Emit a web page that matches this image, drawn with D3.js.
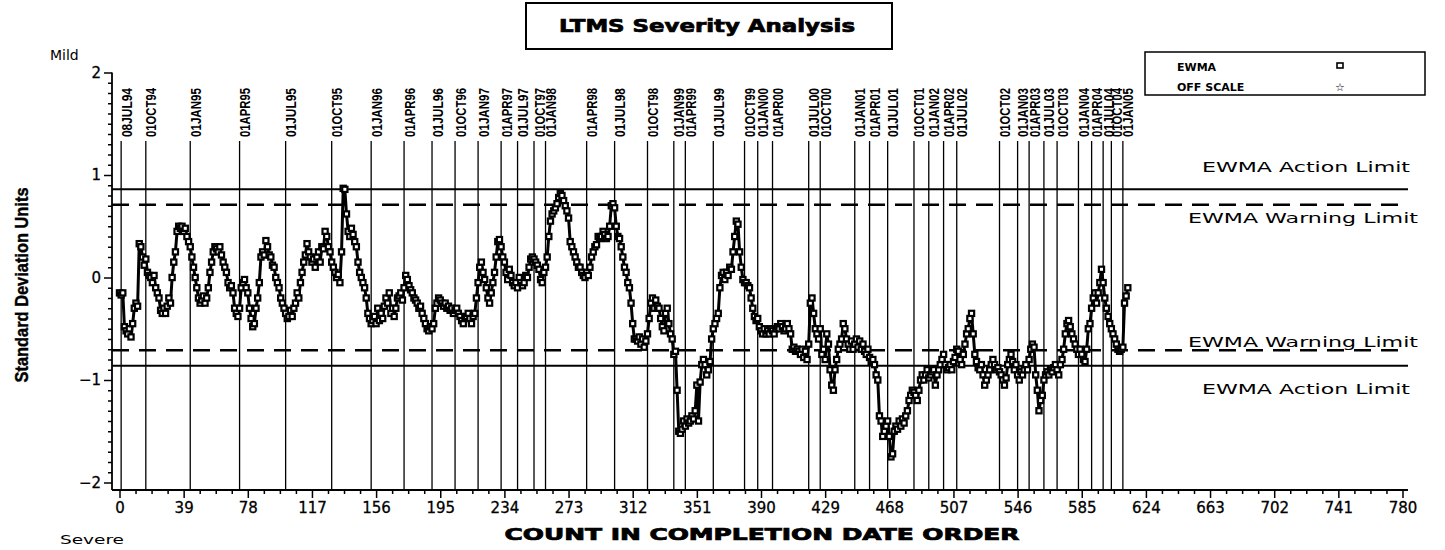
<!DOCTYPE html>
<html>
<head>
<meta charset="utf-8">
<title>LTMS Severity Analysis</title>
<script src="https://cdn.jsdelivr.net/npm/d3@7"></script>
<style>
  body { margin: 0; background: #fff; }
  svg { display: block; }
</style>
</head>
<body>
<div id="chart"></div>
<script>
// ===============================
// Donnees du graphique
// ===============================

// EWMA, une valeur par test (index = rang dans l'ordre de fin)
const ewma = [
  -0.15, -0.17, -0.15, -0.48, -0.52, -0.55, -0.50, -0.58, -0.45, -0.30,
  -0.25, -0.28, 0.33, 0.30, 0.20, 0.12, 0.18, 0.05, 0.02, 0.00,
  -0.05, 0.02, -0.10, -0.15, -0.20, -0.32, -0.35, -0.30, -0.35, -0.28,
  -0.20, -0.25, 0.00, 0.15, 0.25, 0.45, 0.50, 0.48, 0.50, 0.45,
  0.48, 0.40, 0.35, 0.30, 0.20, 0.10, 0.00, -0.10, -0.20, -0.25,
  -0.22, -0.18, -0.25, -0.20, -0.10, 0.05, 0.15, 0.25, 0.30, 0.28,
  0.25, 0.30, 0.22, 0.15, 0.10, 0.05, -0.05, -0.10, -0.08, -0.15,
  -0.30, -0.35, -0.38, -0.30, -0.10, -0.05, -0.02, -0.10, -0.15, -0.30,
  -0.40, -0.48, -0.45, -0.30, -0.20, -0.05, 0.20, 0.25, 0.22, 0.36,
  0.30, 0.22, 0.20, 0.12, 0.10, 0.00, -0.05, -0.10, -0.20, -0.25,
  -0.30, -0.35, -0.40, -0.38, -0.32, -0.38, -0.30, -0.25, -0.15, -0.20,
  -0.05, 0.05, 0.15, 0.22, 0.33, 0.25, 0.20, 0.15, 0.18, 0.10,
  0.20, 0.25, 0.15, 0.30, 0.28, 0.45, 0.40, 0.30, 0.25, 0.15,
  0.10, 0.05, 0.00, 0.03, -0.05, 0.25, 0.87, 0.86, 0.62, 0.45,
  0.40, 0.48, 0.42, 0.35, 0.30, 0.15, 0.05, 0.00, -0.05, -0.10,
  -0.20, -0.35, -0.40, -0.45, -0.42, -0.38, -0.45, -0.30, -0.42, -0.35,
  -0.40, -0.28, -0.20, -0.25, -0.15, -0.35, -0.30, -0.38, -0.30, -0.20,
  -0.18, -0.15, -0.22, -0.10, 0.02, -0.02, -0.08, -0.12, -0.15, -0.20,
  -0.22, -0.25, -0.30, -0.28, -0.35, -0.40, -0.45, -0.50, -0.52, -0.48,
  -0.50, -0.45, -0.30, -0.25, -0.20, -0.22, -0.25, -0.28, -0.25, -0.30,
  -0.28, -0.32, -0.30, -0.35, -0.32, -0.30, -0.35, -0.38, -0.42, -0.45,
  -0.40, -0.38, -0.35, -0.40, -0.45, -0.38, -0.35, -0.20, -0.05, 0.10,
  0.15, 0.05, -0.02, -0.10, -0.20, -0.25, -0.15, -0.05, 0.05, 0.20,
  0.35, 0.37, 0.30, 0.20, 0.15, 0.05, -0.02, 0.08, 0.02, -0.05,
  -0.08, -0.05, -0.10, 0.00, -0.05, -0.08, -0.05, 0.02, 0.00, 0.10,
  0.18, 0.20, 0.18, 0.15, 0.12, 0.08, -0.02, -0.05, 0.05, 0.10,
  0.20, 0.40, 0.55, 0.62, 0.65, 0.68, 0.72, 0.78, 0.82, 0.80,
  0.75, 0.70, 0.65, 0.58, 0.35, 0.30, 0.25, 0.20, 0.15, 0.10,
  0.10, 0.05, 0.02, 0.00, 0.05, 0.02, 0.10, 0.20, 0.25, 0.30,
  0.32, 0.40, 0.38, 0.40, 0.45, 0.42, 0.38, 0.40, 0.50, 0.70,
  0.72, 0.68, 0.50, 0.40, 0.38, 0.30, 0.20, 0.10, 0.05, -0.05,
  -0.10, -0.25, -0.45, -0.60, -0.60, -0.62, -0.58, -0.65, -0.60, -0.68,
  -0.62, -0.55, -0.40, -0.25, -0.20, -0.30, -0.22, -0.28, -0.30, -0.40,
  -0.48, -0.52, -0.35, -0.30, -0.45, -0.55, -0.60, -0.75, -0.72, -1.10,
  -1.50, -1.52, -1.48, -1.40, -1.45, -1.38, -1.42, -1.40, -1.35, -1.38,
  -1.30, -1.05, -1.40, -1.02, -0.85, -0.80, -0.85, -0.95, -0.90, -0.82,
  -0.60, -0.50, -0.45, -0.40, -0.35, -0.10, 0.02, 0.05, -0.02, 0.05,
  0.02, 0.10, 0.08, 0.25, 0.40, 0.55, 0.52, 0.25, 0.10, -0.02,
  -0.05, -0.05, -0.08, -0.10, -0.20, -0.30, -0.38, -0.42, -0.40, -0.48,
  -0.52, -0.55, -0.50, -0.55, -0.52, -0.55, -0.50, -0.52, -0.55, -0.50,
  -0.48, -0.50, -0.45, -0.48, -0.52, -0.50, -0.45, -0.50, -0.55, -0.70,
  -0.68, -0.72, -0.70, -0.72, -0.75, -0.70, -0.78, -0.72, -0.80, -0.65,
  -0.25, -0.20, -0.35, -0.50, -0.55, -0.60, -0.50, -0.75, -0.70, -0.80,
  -0.55, -0.65, -0.90, -1.05, -1.10, -0.90, -0.80, -0.70, -0.65, -0.60,
  -0.45, -0.50, -0.60, -0.65, -0.70, -0.62, -0.70, -0.65, -0.60, -0.68,
  -0.62, -0.70, -0.65, -0.72, -0.75, -0.70, -0.78, -0.82, -0.80, -0.85,
  -0.95, -1.00, -1.35, -1.40, -1.55, -1.50, -1.45, -1.40, -1.55, -1.75,
  -1.72, -1.50, -1.45, -1.48, -1.40, -1.45, -1.38, -1.42, -1.35, -1.30,
  -1.20, -1.15, -1.10, -1.12, -1.15, -1.20, -1.10, -1.00, -0.95, -1.00,
  -0.95, -0.90, -0.98, -0.95, -0.92, -0.90, -1.05, -0.95, -0.90, -0.85,
  -0.80, -0.75, -0.85, -0.90, -0.88, -0.85, -0.90, -0.82, -0.78, -0.70,
  -0.72, -0.80, -0.85, -0.75, -0.65, -0.55, -0.50, -0.40, -0.35, -0.55,
  -0.75, -0.82, -0.88, -0.90, -0.85, -0.95, -1.05, -1.00, -0.95, -0.90,
  -0.85, -0.80, -0.85, -0.90, -0.88, -0.92, -0.95, -1.00, -1.05, -0.98,
  -0.85, -0.80, -0.75, -0.82, -0.90, -0.85, -0.95, -1.00, -0.92, -0.95,
  -0.90, -0.85, -0.90, -0.80, -0.70, -0.65, -0.68, -0.95, -1.10, -1.30,
  -1.20, -1.15, -1.00, -0.95, -0.92, -0.95, -0.90, -0.92, -0.88, -0.85,
  -0.90, -0.95, -0.85, -0.80, -0.70, -0.55, -0.45, -0.42, -0.48, -0.55,
  -0.60, -0.65, -0.70, -0.75, -0.70, -0.75, -0.80, -0.82, -0.70, -0.50,
  -0.45, -0.30, -0.20, -0.15, -0.25, -0.15, -0.05, 0.08, -0.05, -0.20,
  -0.30, -0.38, -0.45, -0.50, -0.55, -0.60, -0.65, -0.70, -0.72, -0.70,
  -0.68, -0.25, -0.18, -0.10
];

// Dates de reference (lignes verticales) et leur rang
const dateLabels = [
  "08JUL94", "01OCT94", "01JAN95", "01APR95", "01JUL95", "01OCT95", "01JAN96",
  "01APR96", "01JUL96", "01OCT96", "01JAN97", "01APR97", "01JUL97", "01OCT97",
  "01JAN98", "01APR98", "01JUL98", "01OCT98", "01JAN99", "01APR99", "01JUL99",
  "01OCT99", "01JAN00", "01APR00", "01JUL00", "01OCT00", "01JAN01", "01APR01",
  "01JUL01", "01OCT01", "01JAN02", "01APR02", "01JUL02", "01OCT02", "01JAN03",
  "01APR03", "01JUL03", "01OCT03", "01JAN04", "01APR04", "01JUL04", "01OCT04",
  "01JAN05"
];
const dateCounts = [
  1, 16, 43, 73, 101, 129, 153,
  173, 190, 204, 218, 232, 242, 252,
  259, 284, 301, 321, 337, 344, 361,
  380, 388, 397, 419, 426, 447, 456,
  467, 483, 492, 501, 509, 535, 546,
  553, 562, 570, 583, 591, 598, 603,
  610
];

const xTicks = [0, 39, 78, 117, 156, 195, 234, 273, 312, 351, 390, 429, 468, 507, 546, 585, 624, 663, 702, 741, 780];
const yTicks = [-2, -1, 0, 1, 2];

// Limites EWMA (+/-)
const actionLimit = 0.86;
const warningLimit = 0.71;

const legendItems = ["EWMA", "OFF SCALE"];

// ===============================
// Mise en place
// ===============================
const W = 1445, H = 550;
const axisY = 490, axisX = 112, rightEnd = 1408;
const labelFont = "'DejaVu Sans', sans-serif";
const narrowFont = "'Liberation Sans Narrow', 'Arial Narrow', 'Liberation Sans', sans-serif";

const svg = d3.select("#chart").append("svg")
    .attr("width", W).attr("height", H)
    .style("background", "#fff");

const x = d3.scaleLinear().domain([0, 780]).range([119.5, 1402.5]);
const y = d3.scaleLinear().domain([-2, 2]).range([482.5, 72.5]);

// ===============================
// Titre
// ===============================
svg.append("rect")
    .attr("x", 526).attr("y", 3).attr("width", 366).attr("height", 46)
    .attr("fill", "none").attr("stroke", "#000").attr("stroke-width", 2);
svg.append("text")
    .attr("x", 707).attr("y", 32)
    .attr("text-anchor", "middle")
    .attr("font-family", labelFont).attr("font-weight", "bold").attr("font-size", 17)
    .attr("stroke", "#000").attr("stroke-width", 0.7)
    .attr("textLength", 296).attr("lengthAdjust", "spacingAndGlyphs")
    .text("LTMS Severity Analysis");

// Legende
const legend = svg.append("g");
legend.append("rect")
    .attr("x", 1145).attr("y", 52).attr("width", 280).attr("height", 43)
    .attr("fill", "#fff").attr("stroke", "#000").attr("stroke-width", 1.5);
legendItems.forEach((d, i) => {
    legend.append("text")
        .attr("x", 1177).attr("y", 71 + i * 20)
        .attr("font-family", labelFont).attr("font-weight", "bold").attr("font-size", 11)
        .text(d);
});
legend.append("rect")
    .attr("x", 1337).attr("y", 63).attr("width", 6).attr("height", 5)
    .attr("fill", "#fff").attr("stroke", "#000").attr("stroke-width", 1.6);
legend.append("text")
    .attr("x", 1340).attr("y", 91).attr("text-anchor", "middle")
    .attr("font-family", labelFont).attr("font-size", 11)
    .text("\u2606");

// ===============================
// Axes
// ===============================
const xAxis = svg.append("g")
    .attr("transform", `translate(0,${axisY})`)
    .call(d3.axisBottom(x).tickValues(xTicks).tickSize(8).tickPadding(4).tickFormat(d3.format("d")));
xAxis.select(".domain").remove();
xAxis.selectAll("line").attr("stroke-width", 1.5);
xAxis.selectAll("text")
    .attr("font-family", labelFont).attr("font-size", 15)
    .attr("stroke", "#000").attr("stroke-width", 0.3);

const xMinor = d3.range(0, 780, 9.75).filter((d, i) => i % 4 !== 0);
svg.append("g")
    .attr("transform", `translate(0,${axisY})`)
    .call(d3.axisBottom(x).tickValues(xMinor).tickSize(4).tickFormat(""))
    .call(g => g.select(".domain").remove())
    .selectAll("line").attr("stroke-width", 1.5);

const yAxis = svg.append("g")
    .attr("transform", `translate(${axisX},0)`)
    .call(d3.axisLeft(y).tickValues(yTicks).tickSize(8).tickPadding(3).tickFormat(d3.format("d")));
yAxis.select(".domain").remove();
yAxis.selectAll("line").attr("stroke-width", 1.5);
yAxis.selectAll("text")
    .attr("font-family", labelFont).attr("font-size", 15)
    .attr("stroke", "#000").attr("stroke-width", 0.3);

const yMinor = d3.range(-20, 21).filter(d => d % 10 !== 0).map(d => d / 10);
svg.append("g")
    .attr("transform", `translate(${axisX},0)`)
    .call(d3.axisLeft(y).tickValues(yMinor).tickSize(4).tickFormat(""))
    .call(g => g.select(".domain").remove())
    .selectAll("line").attr("stroke-width", 1.5);

// lignes d'axe
svg.append("line")
    .attr("x1", axisX).attr("x2", rightEnd).attr("y1", axisY).attr("y2", axisY)
    .attr("stroke", "#000").attr("stroke-width", 1.8);
svg.append("line")
    .attr("x1", axisX).attr("x2", axisX).attr("y1", y(2)).attr("y2", axisY)
    .attr("stroke", "#000").attr("stroke-width", 1.8);

// Titres d'axes
svg.append("text")
    .attr("x", 762).attr("y", 540).attr("text-anchor", "middle")
    .attr("font-family", labelFont).attr("font-weight", "bold").attr("font-size", 15)
    .attr("stroke", "#000").attr("stroke-width", 0.7)
    .attr("textLength", 515).attr("lengthAdjust", "spacingAndGlyphs")
    .text("COUNT IN COMPLETION DATE ORDER");

svg.append("text")
    .attr("transform", "translate(28,285) rotate(-90)")
    .attr("text-anchor", "middle")
    .attr("font-family", narrowFont).attr("font-weight", "bold").attr("font-size", 18)
    .attr("stroke", "#000").attr("stroke-width", 0.4)
    .attr("textLength", 195).attr("lengthAdjust", "spacingAndGlyphs")
    .text("Standard Deviation Units");

svg.append("text")
    .attr("x", 50).attr("y", 60)
    .attr("font-family", labelFont).attr("font-size", 14)
    .text("Mild");
svg.append("text")
    .attr("x", 60).attr("y", 544)
    .attr("font-family", labelFont).attr("font-size", 13)
    .attr("textLength", 64).attr("lengthAdjust", "spacingAndGlyphs")
    .text("Severe");

// ===============================
// Lignes de dates
// ===============================
svg.append("g").selectAll("line")
    .data(dateCounts)
    .join("line")
    .attr("x1", d => x(d)).attr("x2", d => x(d))
    .attr("y1", 141).attr("y2", axisY)
    .attr("stroke", "#000").attr("stroke-width", 1.3);

svg.append("g").selectAll("text")
    .data(dateLabels)
    .join("text")
    .attr("transform", (d, i) => `translate(${x(dateCounts[i]) + 10.5},137) rotate(-90)`)
    .attr("font-family", narrowFont).attr("font-weight", "bold").attr("font-size", 14)
    .attr("textLength", 49).attr("lengthAdjust", "spacingAndGlyphs")
    .text(d => d);

// ===============================
// Limites d'action et d'alerte
// ===============================
[actionLimit, -actionLimit].forEach(v => {
    svg.append("line")
        .attr("x1", axisX).attr("x2", rightEnd).attr("y1", y(v)).attr("y2", y(v))
        .attr("stroke", "#000").attr("stroke-width", 2);
});
[warningLimit, -warningLimit].forEach(v => {
    svg.append("line")
        .attr("x1", axisX).attr("x2", rightEnd).attr("y1", y(v)).attr("y2", y(v))
        .attr("stroke", "#000").attr("stroke-width", 2.5)
        .attr("stroke-dasharray", "17,10");
});

function limitLabel(txt, x0, yy, len) {
    svg.append("text")
        .attr("x", x0).attr("y", yy)
        .attr("font-family", labelFont).attr("font-size", 14)
        .attr("textLength", len).attr("lengthAdjust", "spacingAndGlyphs")
        .text(txt);
}
limitLabel("EWMA Action Limit", 1202, y(actionLimit) - 17, 208);
limitLabel("EWMA Warning Limit", 1188, y(warningLimit) + 18, 230);
limitLabel("EWMA Warning Limit", 1188, y(-warningLimit) - 3, 230);
limitLabel("EWMA Action Limit", 1202, y(-actionLimit) + 28, 208);

// ===============================
// Serie EWMA
// ===============================
const line = d3.line()
    .x((d, i) => x(i))
    .y(d => y(d));

svg.append("path")
    .datum(ewma)
    .attr("d", line)
    .attr("fill", "none")
    .attr("stroke", "#000")
    .attr("stroke-width", 3)
    .attr("stroke-linejoin", "round");

svg.append("g").selectAll("rect")
    .data(ewma)
    .join("rect")
    .attr("x", (d, i) => x(i) - 2.6)
    .attr("y", d => y(d) - 2.6)
    .attr("width", 5.2).attr("height", 5.2)
    .attr("fill", "#fff")
    .attr("stroke", "#000")
    .attr("stroke-width", 2.2);
</script>
</body>
</html>
